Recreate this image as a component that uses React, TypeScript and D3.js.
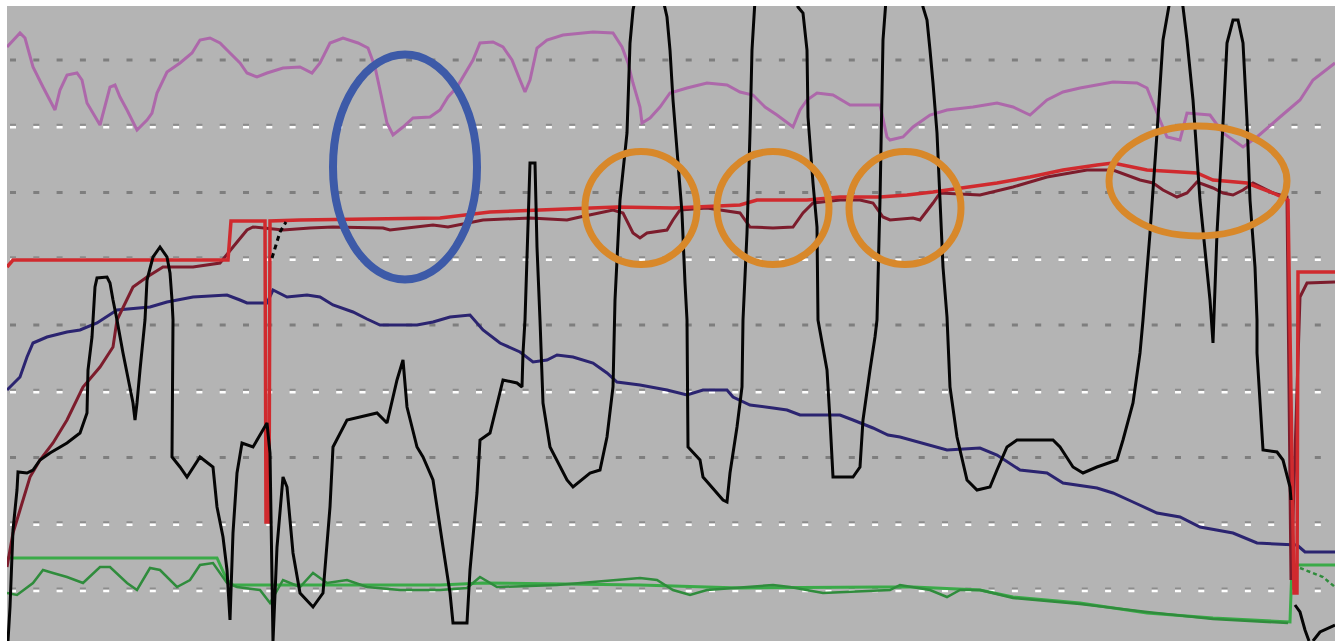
import React from "react";
import * as d3 from "d3";

type P = [number, number];

// time (s) , value (counts)
const pinkSeries: P[] = [
  [0,118.8],[6.5,121.6],[9,120.6],[13,114.8],[18,110.8],[24,106.2],[26.5,110.2],[30,113.2],[35,113.6],[37.5,112.2],
  [40,107.6],[46.5,103.2],[51.5,110.8],[54,111.2],[56.5,108.8],[60,106.2],[65,102.2],[70,104.2],[72.5,105.6],[75,109.6],
  [80,113.8],[86.5,115.6],[92.5,117.6],[96.5,120.2],[101.5,120.6],[106.5,119.6],[111.5,117.6],[116.5,115.6],[120,113.6],
  [125,112.8],[130,113.6],[138,114.6],[146.5,114.8],[152.5,113.6],[156.5,115.6],[161.5,119.6],[168,120.6],[175.5,119.6],
  [180.5,118.6],[184,114.8],[186.5,110.2],[190,103.6],[193,101.2],[198,102.8],[203,104.6],[211.5,104.8],[216.5,106.2],
  [220.5,108.8],[225,110.8],[233,116.2],[236.5,119.6],[243,119.8],[248,118.8],[252.5,116.2],[256.5,112.2],[259,109.8],
  [261.5,112.2],[265,118.6],[270,120.2],[278,121.2],[293,121.8],[303,121.6],[307.5,118.8],[310.5,115.6],[313,111.6],
  [316.5,106.8],[317.5,103.6],[321.5,104.6],[326.5,106.8],[331.5,109.6],[340,110.6],[350,111.6],[360,111.2],[366.5,109.8],
  [373,109.2],[379,106.8],[385,105.2],[393,102.8],[396.5,106.2],[400,108.2],[405,109.6],[413,109.2],[421.5,107.2],
  [436.5,107.2],[440,100.8],[441.5,100.2],[448,100.8],[453,102.8],[461.5,105.2],[470,106.2],[483,106.8],[495,107.6],
  [503,106.8],[511.5,105.2],[520,108.2],[528,109.8],[536.5,110.6],[553,111.8],[565,111.6],[570,110.6],[575,105.6],
  [580,100.8],[586.5,100.2],[590,105.6],[601.5,105.2],[608,101.6],[618,98.8],[625,100.8],[636.5,104.8],[646.5,108.2],
  [653,112.2],[664,115.6],
];

const redSeries: P[] = [
  [0,74.8],[3,76.2],[110.5,76.2],[112,84],[129,84],[129.5,23.8],[131,23.8],[131.5,84],[146.5,84.2],[216.5,84.6],
  [241.5,85.8],[266.5,86.2],[305,86.8],[333,86.6],[366.5,87.2],[375,88.2],[400,88.2],[416.5,88.8],[436.5,88.8],
  [450,89.2],[463,89.8],[495,91.6],[511.5,92.8],[528,94.2],[545,95.2],[553,95.6],[570,94.2],[595,93.6],[603,92.2],
  [620,91.6],[633,89.6],[640.5,88.2],[643.5,9.6],[645,9.6],[645.5,73.8],[664,73.8],
];

const darkRedSeries: P[] = [
  [0,14.8],[3,21.6],[6.5,26.2],[11.5,32.8],[16.5,36.2],[23,39.6],[30,44.2],[38,50.8],[46.5,54.8],[53,58.8],[55,64.2],
  [63,70.8],[70,72.8],[78,74.8],[93,74.8],[106.5,75.6],[113,78.8],[120,82.2],[123,82.8],[138,82.2],[151.5,82.6],
  [163,82.8],[188,82.6],[191.5,82.2],[213,83.2],[220.5,82.8],[238,84.2],[261.5,84.6],[280,84.2],[286.5,84.8],[303,86.2],
  [308,85.6],[313,81.6],[316.5,80.6],[320,81.6],[330,82.2],[333,84.2],[336.5,86.2],[350,86.6],[366.5,85.6],[371.5,82.8],
  [383,82.6],[393,82.8],[398,85.6],[403,87.6],[416.5,88.2],[426.5,88.2],[433,87.6],[438,84.8],[441.5,84.2],[453,84.6],
  [456.5,84.2],[463,87.6],[466.5,89.6],[486.5,89.2],[503,90.8],[520,92.8],[540,94.2],[553,94.2],[566.5,92.2],[573,91.6],
  [578,90.2],[585,88.8],[590,89.6],[595,91.8],[603,90.6],[608,89.6],[613,89.2],[618,90.2],[623,91.6],[633,89.6],
  [640,88.8],[642,12.2],[646.5,68.8],[650,71.6],[664,71.8],
];

// short dashed trace after the first spike
const blackDashSeries: P[] = [[132.5,76.6],[134.5,79.2],[136.5,81.8],[139.5,83.8]];

const navySeries: P[] = [
  [0,50.2],[6.5,52.8],[10,56.8],[13,59.6],[20,60.8],[30,61.8],[36.5,62.2],[45,63.6],[55,66.2],[71.5,66.8],[80,67.8],
  [93,68.8],[110,69.2],[116.5,68.2],[120,67.6],[130,67.6],[133,70.2],[140,68.8],[150,69.2],[156.5,68.8],[163,67.2],
  [173,65.8],[180,64.4],[186.5,63.2],[205,63.2],[213,63.8],[221.5,64.8],[231.5,65.2],[238,62.2],[246.5,59.6],
  [256.5,57.8],[263,55.8],[270,56.2],[275,57.2],[283,56.8],[293,55.6],[300,53.6],[305,51.8],[316.5,51.2],[330,50.2],
  [340,49.2],[348,50.2],[360,50.2],[363,48.8],[371.5,47.2],[383,46.6],[390,46.2],[396.5,45.2],[416.5,45.2],[423,44.2],
  [433,42.6],[440.5,41.2],[446.5,40.8],[470,38.2],[486.5,38.6],[495,37.2],[506.5,34.2],[520,33.6],[528,31.6],
  [545,30.6],[553,29.6],[563,27.8],[575,25.6],[586.5,24.8],[596.5,22.8],[613,21.6],[625,19.6],[645,19.2],[649,17.8],
  [664,17.8],
];

const greenSeries: P[] = [
  [0,16.6],[105,16.6],[110,12.2],[113,11.2],[216.5,11.2],[238,11.6],[316.5,11.2],[366.5,10.6],[436.5,10.8],[453,10.8],
  [486.5,10.2],[503,8.8],[536.5,7.6],[570,5.6],[603,4.6],[641.5,3.8],[642.5,15.2],[664,15.2],
];

const green2Series: P[] = [
  [0,9.6],[5,9.2],[13,11.6],[18,14.2],[23,13.6],[30,12.8],[38,11.6],[46.5,14.8],[51.5,14.8],[60,11.6],[65,10.2],
  [71.5,14.6],[76.5,14.2],[85,10.8],[91.5,12.2],[96.5,15.2],[103,15.6],[110,11.6],[115,10.8],[126.5,10.2],[131.5,7.6],
  [138,12.2],[146.5,10.8],[153,13.6],[160,11.6],[170,12.2],[180,10.8],[196.5,10.2],[216.5,10.2],[230,10.6],[236.5,12.8],
  [245,10.8],[275,11.2],[316.5,12.6],[325,12.2],[333,10.2],[341.5,9.2],[350,10.2],[383,11.2],[391.5,10.8],[408,9.6],
  [441.5,10.2],[446.5,11.2],[461.5,10.2],[470,8.8],[476.5,10.2],[486.5,10.2],[503,8.6],[536.5,7.4],[570,5.8],
  [603,4.4],[640.5,3.6],
];
const green2Tail: P[] = [[646.5,14.6],[658,12.8],[664,10.8]];

const blackSeries: P[] = [
  [0.5,0],[1.5,6.8],[3,22.2],[5,30.2],[5.5,33.8],[10,33.6],[13,34.2],[16.5,36.2],[21.5,37.6],[30,39.6],[36.5,41.6],
  [40,45.6],[40.5,54.2],[42.5,60.8],[44,70.8],[45,72.6],[50,72.8],[51.5,71.6],[53,68.2],[55,64.2],[58,57.6],[63,47.6],
  [64,44.2],[65,47.6],[66.5,54.2],[69,64.2],[70,72.2],[73,76.8],[76.5,78.8],[80,76.8],[81.5,73.6],[82.5,68.2],[83,64.2],
  [82.5,36.8],[86.5,34.8],[90,32.8],[96.5,36.8],[103,34.8],[105,26.8],[108,20.8],[110,14.2],[111.5,4.2],[113,21.6],
  [115,33.6],[117.5,39.6],[123,38.8],[130,43.6],[131.5,37.6],[133,0],[135,18.8],[138,32.8],[140,30.8],[143,17.6],
  [146.5,9.6],[153,6.8],[158,9.6],[161.5,26.8],[163,38.8],[170,44.2],[185,45.6],[190,43.6],[195,52.2],[198,56.2],
  [200,46.8],[205,38.8],[208,36.8],[213,32.2],[218,18.8],[221.5,9.6],[223,3.6],[230,3.6],[231.5,14.2],[235,29.6],
  [236.5,40.2],[241.5,41.6],[248,52.2],[255,51.6],[257.5,50.8],[258,57.6],[259,64.2],[261.5,95.6],[264,95.6],
  [265,78.8],[266.5,64.2],[268,47.6],[271.5,38.8],[280,32.2],[283,30.8],[291.5,33.6],[296.5,34.2],[300,40.8],
  [303,50.8],[304,68.2],[306.5,88.2],[310,101.6],[311.5,119.6],[313,126.2],[315.5,131],[326.5,131],[330,124.8],
  [331.5,118.2],[333,108.2],[335,98.2],[337.5,85.6],[339,71.6],[340,64.2],[340.5,38.8],[346.5,36.2],[348,32.8],
  [358,28.2],[360,27.8],[361.5,33.6],[365,42.8],[367.5,50.8],[368,64.2],[370,81.6],[371.5,101.6],[372.5,118.2],
  [374,128.2],[376.5,131],[394,131],[395.5,126.8],[398,125.6],[400,118.2],[400.5,104.8],[403,91.6],[405,82.8],
  [405.5,64.2],[410,54.2],[411.5,44.2],[413,32.8],[423,32.8],[426.5,34.8],[428,44.2],[431.5,54.2],[434,60.8],
  [435,64.2],[436.5,88.2],[438,120.2],[439.5,128.2],[441.5,131],[456.5,131],[458,126.8],[460,124.2],[461.5,118.2],
  [463,111.6],[465,101.6],[466.5,88.2],[468,74.8],[470,64.8],[471.5,50.8],[475,40.8],[480,32.2],[485,30.2],
  [491.5,30.8],[495,34.2],[500,38.8],[505,40.2],[523,40.2],[526.5,38.8],[533,34.8],[538,33.6],[545,34.8],[555,36.2],
  [558,40.2],[563,47.6],[566.5,57.6],[568,64.2],[571.5,81.6],[575,101.6],[578,120.2],[581.5,128.2],[584,131],
  [586.5,131],[588,126.8],[590,120.2],[593,108.2],[596.5,88.2],[601.5,68.2],[603,59.6],[605,81.6],[607.5,99.6],
  [610,119.6],[613,124.2],[615.5,124.2],[618,119.6],[620,104.2],[621.5,88.2],[624,74.8],[625,64.2],[625,57.6],
  [628,38.2],[635,37.8],[638,36.2],[641.5,30.8],[642,28.2],
];
const blackTail: P[] = [[644,7.2],[646.5,5.8],[649,2.2],[651,0]];
const blackTail2: P[] = [[653,0],[656.5,1.8],[664,3.2]];

// gridline levels (counts) and their style
const gridStart = 10.2;
const gridStep = 13.25;
const gridLevels = d3.range(9).map((i) => gridStart + i * gridStep);
const gridWhite = [true, true, false, true, false, true, false, true, false];

// highlighted regions: [centre time, centre value, half-width (s), half-height (counts)]
const blueMarks: [number, number, number, number][] = [[199, 94.8, 36, 22.5]];
const orangeMarks: [number, number, number, number][] = [
  [317, 86.6, 28, 11.3],
  [383, 86.6, 28, 11.3],
  [449, 86.6, 28, 11.3],
  [595.5, 92, 44.5, 11],
];

const W = 1335;
const H = 641;
const X0 = 7;
const Y0 = 6;

export default function App() {
  const x = d3.scaleLinear().domain([0, 664]).range([X0, W]);
  const y = d3.scaleLinear().domain([0, 127]).range([H, Y0]);
  const line = d3
    .line<P>()
    .x((d) => x(d[0]))
    .y((d) => y(d[1]))
    .curve(d3.curveLinear);

  const series: { data: P[]; color: string; width: number; dash?: string }[] = [
    { data: greenSeries, color: "#3aaa48", width: 3 },
    { data: green2Series, color: "#2f8c3c", width: 2.5 },
    { data: green2Tail, color: "#2f8c3c", width: 2.5, dash: "4 3" },
    { data: navySeries, color: "#2b2470", width: 3 },
    { data: pinkSeries, color: "#ad68aa", width: 3 },
    { data: darkRedSeries, color: "#7c1c2c", width: 3 },
    { data: redSeries, color: "#d02a2e", width: 3.5 },
    { data: blackDashSeries, color: "#050505", width: 3, dash: "5 4" },
    { data: blackSeries, color: "#050505", width: 3 },
    { data: blackTail, color: "#050505", width: 3 },
    { data: blackTail2, color: "#050505", width: 3 },
  ];

  return (
    <div style={{ position: "absolute", left: 0, top: 0 }}>
      <svg width={W} height={H} style={{ display: "block", background: "#fff" }}>
        <defs>
          <clipPath id="plot">
            <rect x={X0} y={Y0} width={W - X0} height={H - Y0} />
          </clipPath>
        </defs>
        <rect x={X0} y={Y0} width={W - X0} height={H - Y0} fill="#b4b4b4" />
        <g clipPath="url(#plot)">
          {gridLevels.map((v, i) => {
            const yy = y(v);
            return gridWhite[i] ? (
              <g key={i}>
                <line x1={X0} x2={W} y1={yy - 1.5} y2={yy - 1.5} stroke="#8c8c8c" strokeWidth={2}
                  strokeDasharray="6 17.3" strokeDashoffset={-3} />
                <line x1={X0} x2={W} y1={yy + 1} y2={yy + 1} stroke="#ffffff" strokeWidth={2.5}
                  strokeDasharray="6 17.3" strokeDashoffset={-3} />
              </g>
            ) : (
              <line key={i} x1={X0} x2={W} y1={yy} y2={yy} stroke="#7e7e7e" strokeWidth={3}
                strokeDasharray="6 17.3" strokeDashoffset={-3} />
            );
          })}
          {series.map((s, i) => (
            <path key={i} d={line(s.data) || ""} fill="none" stroke={s.color} strokeWidth={s.width}
              strokeDasharray={s.dash} strokeLinejoin="miter" strokeMiterlimit={2} />
          ))}
          {blueMarks.map((m, i) => (
            <ellipse key={"b" + i} cx={x(m[0])} cy={y(m[1])} rx={x(m[2]) - x(0)} ry={y(0) - y(m[3])}
              fill="none" stroke="#3d5aa8" strokeWidth={8} />
          ))}
          {orangeMarks.map((m, i) => (
            <ellipse key={"o" + i} cx={x(m[0])} cy={y(m[1])} rx={x(m[2]) - x(0)} ry={y(0) - y(m[3])}
              fill="none" stroke="#d8882a" strokeWidth={7} />
          ))}
        </g>
      </svg>
    </div>
  );
}
